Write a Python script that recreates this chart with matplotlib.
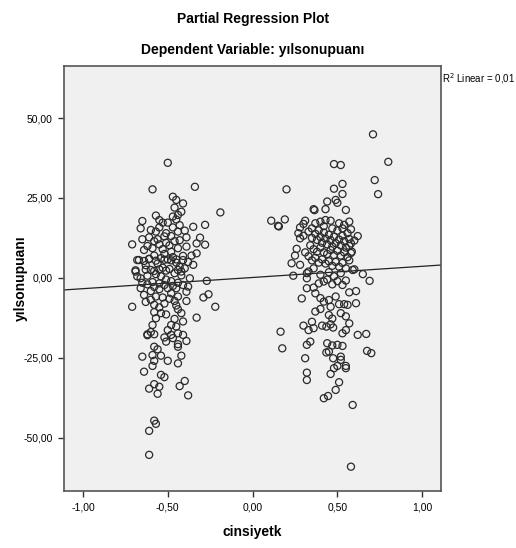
import numpy as np
import matplotlib
matplotlib.use("Agg")
import matplotlib.pyplot as plt

plt.rcParams['font.family'] = ['Liberation Sans', 'DejaVu Sans']

# residuals: left group (cinsiyetk < 0)
left_x = [-0.50, -0.59, -0.34, -0.47, -0.45, -0.41, -0.46, -0.42, -0.19, -0.44, -0.57, -0.47, -0.45,
          -0.65, -0.55, -0.53, -0.50, -0.28, -0.35, -0.66, -0.60, -0.44, -0.40, -0.39, -0.31, -0.57,
          -0.51, -0.48, -0.71, -0.65, -0.61, -0.56, -0.33, -0.28, -0.39, -0.33, -0.44, -0.64, -0.59,
          -0.48, -0.41, -0.67,
          -0.55, -0.53, -0.51, -0.49, -0.46, -0.43, -0.52, -0.54, -0.50, -0.47, -0.45, -0.43, -0.58,
          -0.61, -0.63, -0.56, -0.53, -0.49, -0.46, -0.42, -0.60, -0.57, -0.54, -0.51, -0.48, -0.44,
          -0.62, -0.58, -0.55, -0.47, -0.40, -0.38, -0.36, -0.62, -0.58, -0.52, -0.47, -0.43, -0.55,
          -0.49, -0.46, -0.52, -0.55, -0.44, -0.60, -0.65, -0.68, -0.63,
          -0.68, -0.64, -0.61, -0.57, -0.52, -0.48, -0.45, -0.41,
          -0.69, -0.63, -0.58, -0.55, -0.51, -0.44, -0.42, -0.35,
          -0.69, -0.66, -0.62, -0.59, -0.55, -0.52, -0.37, -0.27, -0.41, -0.38, -0.45, -0.66, -0.60,
          -0.50, -0.48, -0.64, -0.57, -0.53, -0.44, -0.39, -0.26, -0.29, -0.39, -0.71, -0.58, -0.45,
          -0.22, -0.58, -0.54, -0.51, -0.42, -0.33, -0.57, -0.46, -0.41, -0.59, -0.48, -0.45, -0.62,
          -0.58, -0.50, -0.48, -0.44, -0.41, -0.52, -0.47, -0.51, -0.44, -0.39, -0.58, -0.65, -0.59,
          -0.54, -0.42, -0.58, -0.50,
          -0.44, -0.64, -0.59, -0.54, -0.52, -0.40, -0.58, -0.55, -0.61, -0.43, -0.56, -0.38, -0.58,
          -0.57, -0.61, -0.61, -0.62, -0.60, -0.56, -0.44]
left_y = [36.0, 27.7, 28.5, 25.4, 24.4, 23.3, 22.0, 20.7, 20.5, 19.7, 19.5, 19.2, 18.3,
          17.8, 18.1, 17.3, 17.3, 16.6, 16.0, 15.5, 15.0, 14.5, 14.8, 12.7, 12.6, 14.5,
          14.0, 13.1, 10.5, 12.1, 12.7, 12.1, 10.8, 10.4, 9.8, 7.7, 9.3, 8.75, 9.3,
          8.2, 6.9, 5.6,
          10.5, 9.0, 11.0, 10.2, 11.5, 11.8, 7.5, 6.2, 5.8, 6.5, 4.8, 3.5, 7.0,
          6.0, 4.0, 4.5, 3.2, 2.8, 1.5, 0.8, 2.5, 1.2, 0.5, -0.5, -1.0, -1.5,
          -2.0, -2.8, -3.5, -2.5, 3.0, 5.0, 7.0, 10.0, 11.5, 13.0, 15.8, 16.5, 15.8,
          -6.5, -7.2, -8.0, -9.2, -9.8, -6.8, -1.5, 0.5, -7.5,
          5.6, 5.3, 5.9, 5.4, 5.7, 5.5, 5.8, 5.6,
          2.4, 2.6, 2.2, 2.7, 2.3, 2.5, 2.0, 4.1,
          2.0, -0.1, 0.7, -1.3, -1.7, -2.2, -0.1, -0.9, -2.2, -2.7, -3.2, -3.2, -4.1,
          -3.2, -4.8, -5.3, -5.8, -6.1, -5.8, -4.3, -5.1, -6.1, -7.2, -9.0, -8.4, -8.6,
          -9.0, -10.7, -11.0, -11.4, -11.0, -12.4, -12.6, -12.8, -13.6, -14.7, -14.7, -15.2, -17.6,
          -17.6, -16.3, -17.8, -17.3, -17.8, -18.6, -18.8, -19.9, -20.7, -19.7, -21.5, -24.6, -24.1,
          -24.3, -24.3, -25.9, -25.9,
          -26.7, -29.3, -27.5, -30.3, -31.0, -32.2, -33.2, -34.0, -34.6, -33.8, -36.2, -36.7, -44.6,
          -45.6, -47.8, -55.3, -17.9, -16.9, -22.3, -21.5]

# right group (cinsiyetk > 0)
right_x = [0.71, 0.80, 0.48, 0.52, 0.72, 0.53, 0.20, 0.48, 0.53, 0.74, 0.44, 0.49, 0.50,
           0.36, 0.365, 0.43, 0.55, 0.11, 0.15, 0.155, 0.19, 0.28, 0.30, 0.31, 0.37, 0.40,
           0.43, 0.46, 0.51, 0.54, 0.57, 0.62,
           0.27, 0.30, 0.33, 0.35, 0.37, 0.38, 0.40, 0.41, 0.42, 0.43, 0.44, 0.45, 0.46,
           0.47, 0.48, 0.49, 0.50, 0.51, 0.52, 0.53, 0.54, 0.55, 0.56, 0.57, 0.58, 0.60,
           0.34, 0.36, 0.38, 0.40, 0.42, 0.44, 0.46, 0.48, 0.50, 0.52, 0.54, 0.56, 0.58,
           0.31, 0.33, 0.35, 0.37, 0.39, 0.41, 0.43, 0.45, 0.47, 0.49, 0.51, 0.53, 0.55,
           0.57, 0.59, 0.39, 0.47, 0.53, 0.58, 0.42, 0.35, 0.45, 0.40, 0.48, 0.52, 0.44,
           0.50, 0.47, 0.55, 0.36, 0.33, 0.57, 0.585, 0.28, 0.25,
           0.26, 0.23, 0.28, 0.24, 0.32, 0.32, 0.60, 0.65, 0.69, 0.32, 0.29, 0.36, 0.39,
           0.42, 0.37, 0.40, 0.42, 0.45, 0.46, 0.49, 0.53, 0.57, 0.61, 0.51, 0.54, 0.56,
           0.61, 0.37, 0.40, 0.45, 0.47, 0.52, 0.55, 0.165, 0.175, 0.30, 0.33, 0.36, 0.35,
           0.41, 0.435, 0.46, 0.475, 0.53, 0.55, 0.57, 0.62, 0.67, 0.32, 0.34, 0.44, 0.47,
           0.50, 0.53, 0.675, 0.70,
           0.31, 0.32, 0.32, 0.435, 0.45, 0.475, 0.52, 0.52, 0.55, 0.55, 0.48, 0.50, 0.46,
           0.51, 0.49, 0.42, 0.445, 0.59, 0.58]
right_y = [44.9, 36.3, 35.6, 35.3, 30.6, 29.4, 27.7, 27.9, 26.25, 26.2, 23.9, 24.4, 23.5,
           21.5, 21.2, 21.5, 21.25, 17.9, 16.3, 16.1, 18.3, 15.8, 16.9, 17.9, 17.1, 17.6,
           18.1, 17.9, 17.1, 16.6, 17.6, 13.1,
           14.0, 13.2, 14.5, 12.5, 13.8, 11.9, 12.8, 11.0, 14.2, 12.3, 10.5, 13.5, 11.8,
           9.8, 12.9, 10.9, 14.8, 12.0, 10.2, 13.2, 11.5, 9.5, 14.0, 12.2, 10.8, 11.7,
           10.2, 9.0, 8.2, 9.5, 8.0, 7.5, 8.7, 7.2, 8.5, 7.0, 8.0, 6.5, 7.8,
           8.0, 6.8, 5.5, 6.3, 4.8, 5.8, 4.5, 5.2, 3.8, 5.0, 3.5, 4.7, 3.0,
           5.5, 2.5, 14.9, 15.5, 15.5, 15.2, 16.2, 15.5, 1.8, 1.0, 0.5, 1.5, -0.5,
           -1.0, -2.0, -0.8, 3.0, 2.0, 10.0, 8.2, 12.4, 7.0,
           9.1, 4.6, 4.1, 0.7, 1.5, -0.1, 2.7, 1.2, -0.9, -3.2, -6.4, -3.0, -1.7,
           -1.1, -4.8, -6.3, -7.4, -6.9, -9.0, -5.8, -2.2, -4.5, -4.1, -8.2, -8.2, -8.4,
           -7.9, -10.5, -9.7, -11.6, -12.7, -11.0, -12.0, -16.8, -22.0, -14.9, -16.3, -15.7, -13.7,
           -14.9, -15.2, -14.5, -15.5, -17.3, -16.3, -14.2, -17.8, -17.5, -20.9, -19.9, -20.4, -21.1,
           -20.9, -21.25, -22.8, -23.5,
           -25.1, -29.6, -31.9, -23.3, -23.0, -25.1, -25.6, -24.6, -27.5, -28.2, -28.2, -27.5, -30.0,
           -32.6, -35.0, -37.6, -36.9, -39.7, -59.0]

# fit line as drawn in the picture
line_slope = 3.5
line_intercept = 0.15
r2_text = "R$^2$ Linear = 0,01"

xticks = [-1.0, -0.5, 0.0, 0.5, 1.0]
yticks = [-50, -25, 0, 25, 50]


def comma(v):
    return f"{v:.2f}".replace(".", ",")


fig = plt.figure(figsize=(5.16, 5.48), dpi=100)
ax = fig.add_axes([0.124, 0.104, 0.731, 0.7755])
ax.set_facecolor('#f0f0f0')

ax.scatter(left_x + right_x, left_y + right_y, s=26, facecolors='none',
           edgecolors='#2a2a2a', linewidths=0.9, zorder=3)

xl = np.array([-1.112, 1.112])
ax.plot(xl, line_intercept + line_slope * xl, color='#222222', lw=0.9, zorder=2)

ax.set_xlim(-1.112, 1.112)
ax.set_ylim(-66.6, 66.25)
ax.set_xticks(xticks)
ax.set_xticklabels([comma(v) for v in xticks], fontsize=7.5)
ax.set_yticks(yticks)
ax.set_yticklabels([comma(v) for v in yticks], fontsize=7.5)
ax.tick_params(direction='out', length=4, width=1, color='#333333', pad=4)

for s in ax.spines.values():
    s.set_color('#555555')
    s.set_linewidth(1.2)

ax.set_xlabel('cinsiyetk', fontsize=10, fontweight='bold', labelpad=9)
ax.set_ylabel('yılsonupuanı', fontsize=10, fontweight='bold')
ax.yaxis.set_label_coords(-0.095, 0.5)

fig.text(0.49, 0.965, 'Partial Regression Plot', ha='center', va='center',
         fontsize=10, fontweight='bold')
fig.text(0.49, 0.908, 'Dependent Variable: yılsonupuanı', ha='center', va='center',
         fontsize=10, fontweight='bold')
fig.text(0.857, 0.857, r2_text, ha='left', va='center', fontsize=7)

fig.savefig('out.png', dpi=100)
